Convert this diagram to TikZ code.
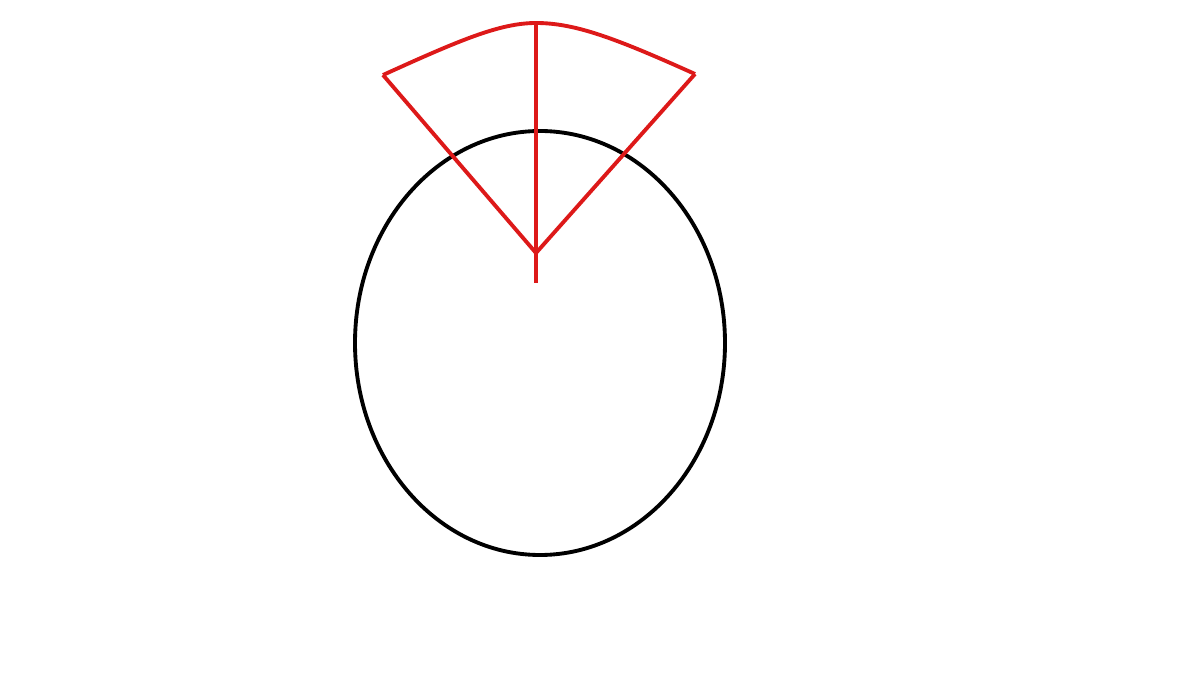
\documentclass[tikz,border=0pt]{standalone}
\usepackage{tikz}

\begin{document}
\begin{tikzpicture}[x=0.02cm, y=-0.02cm, line join=round,
                    ring/.style={draw=black, line width=2.2pt},
                    fan/.style={draw=red!85!black!90, line width=2.2pt}]

\useasboundingbox (0,0) rectangle (1200,675);

  \coordinate (centre) at (540,343);
  \coordinate (apex) at (536,253);
  \coordinate (tail) at (536,283);
  \coordinate (top) at (536,23);
  \coordinate (left) at (383,75);
  \coordinate (right) at (695,74);

\draw[ring] (centre) ellipse [x radius=185, y radius=212];

\draw[fan] (left) -- (apex) -- (right);
\draw[fan] (left) .. controls (460,40) and (500,23) .. (top)
                  .. controls (575,23) and (615,38) .. (right);
\draw[fan] (top) -- (tail);

\end{tikzpicture}
\end{document}
